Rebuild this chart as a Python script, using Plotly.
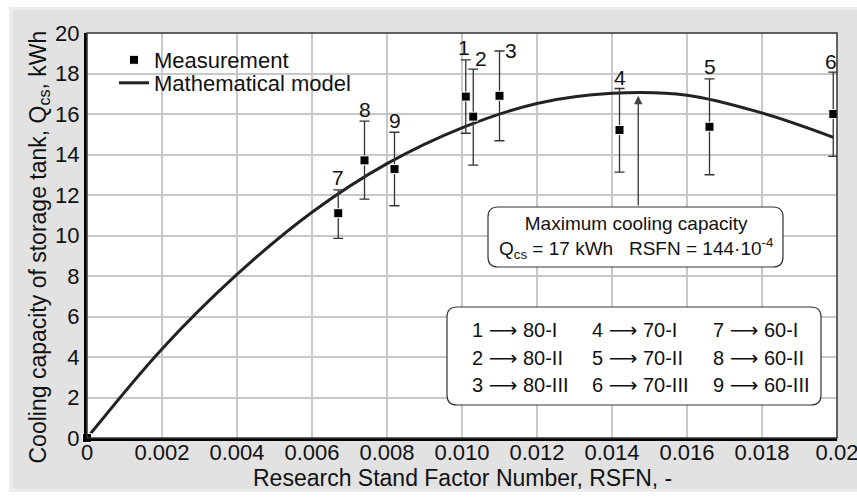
import plotly.graph_objects as go

# ---------------- data ----------------
point_labels = ["1", "2", "3", "4", "5", "6", "7", "8", "9"]
rsfn = [0.0101, 0.0103, 0.0110, 0.0142, 0.0166, 0.0199, 0.0067, 0.0074, 0.0082]
q_meas = [16.86, 15.87, 16.90, 15.21, 15.37, 16.00, 11.10, 13.71, 13.28]
err_plus = [1.81, 2.35, 2.21, 2.05, 2.36, 2.07, 1.15, 1.94, 1.82]
err_minus = [1.81, 2.39, 2.22, 2.08, 2.37, 2.09, 1.24, 1.91, 1.81]

origin_x = [0.0]
origin_y = [0.0]

model_x = [0.0, 0.002, 0.004, 0.006, 0.008, 0.010, 0.012, 0.014, 0.016, 0.018, 0.0199]
model_y = [0.0, 4.40, 8.08, 11.15, 13.55, 15.32, 16.52, 17.02, 16.93, 16.05, 14.85]

configs = ["80-I", "80-II", "80-III", "70-I", "70-II", "70-III", "60-I", "60-II", "60-III"]

x_tickvals = [0, 0.002, 0.004, 0.006, 0.008, 0.010, 0.012, 0.014, 0.016, 0.018, 0.02]
x_ticktext = ["0", "0.002", "0.004", "0.006", "0.008", "0.010", "0.012", "0.014", "0.016", "0.018", "0.02"]
y_tickvals = [0, 2, 4, 6, 8, 10, 12, 14, 16, 18, 20]

max_q = 17
max_rsfn_text = "144"
arrow_tip = (0.0147, 16.9)

# ---------------- styling / layout helpers ----------------
FONT = "Liberation Sans, Arial, sans-serif"
W, H = 857, 497
ML, MR, MT, MB = 87, 20, 33, 59
PW, PH = W - ML - MR, H - MT - MB


def px2paper(px, py):
    return (px - ML) / PW, (H - MB - py) / PH


def rounded_rect(x0px, y0px, x1px, y1px, r):
    xa, yb = px2paper(x0px, y1px)
    xb, yt = px2paper(x1px, y0px)
    rx, ry = r / PW, r / PH
    return (f"M {xa+rx},{yb} L {xb-rx},{yb} Q {xb},{yb} {xb},{yb+ry} "
            f"L {xb},{yt-ry} Q {xb},{yt} {xb-rx},{yt} "
            f"L {xa+rx},{yt} Q {xa},{yt} {xa},{yt-ry} "
            f"L {xa},{yb+ry} Q {xa},{yb} {xa+rx},{yb} Z")


LABEL_OFFSETS = {"2": (8, 11), "3": (11, 1), "1": (-2, 12), "6": (-2, 11), "4": (0, 11)}
ARROW = "<span style=\"font-family:DejaVu Sans\">\u27f6</span>"

fig = go.Figure()

fig.add_trace(go.Scatter(
    x=model_x, y=model_y, mode="lines", name="Mathematical model",
    line=dict(color="#222222", width=3, shape="spline", smoothing=1.0),
    legend="legend2",
))

fig.add_trace(go.Scatter(
    x=rsfn, y=q_meas, mode="markers", name="Measurement",
    marker=dict(symbol="square", size=9, color="black", line=dict(color="white", width=1)),
    error_y=dict(type="data", symmetric=False, array=err_plus, arrayminus=err_minus,
                 color="#333333", thickness=1.3, width=5),
    cliponaxis=False, legend="legend",
))

fig.add_trace(go.Scatter(
    x=origin_x, y=origin_y, mode="markers", showlegend=False,
    marker=dict(symbol="square", size=9, color="black", line=dict(color="white", width=1)),
    cliponaxis=False,
))

annotations = []
for lab, x, y, ep in zip(point_labels, rsfn, q_meas, err_plus):
    dx, dy = LABEL_OFFSETS.get(lab, (0, 12))
    annotations.append(dict(x=x, y=y + ep, text=lab, showarrow=False, xanchor="center",
                            yanchor="middle", xshift=dx, yshift=dy,
                            font=dict(family=FONT, size=21, color="#111")))

bx0, by0, bx1, by1 = 488, 207, 783, 267
box_top = px2paper(0, by0)[1] * 20
annotations.append(dict(x=arrow_tip[0], y=arrow_tip[1], ax=arrow_tip[0], ay=box_top,
                        axref="x", ayref="y", xref="x", yref="y", showarrow=True,
                        arrowhead=2, arrowsize=1.2, arrowwidth=1.4, arrowcolor="#444",
                        standoff=0, text=""))

cx, cy = px2paper((bx0 + bx1) / 2, (by0 + by1) / 2)
annotations.append(dict(x=cx, y=cy, xref="paper", yref="paper", showarrow=False,
                        text=("Maximum cooling capacity<br>"
                              f"Q<sub>cs</sub> = {max_q} kWh\u00a0\u00a0\u00a0RSFN = {max_rsfn_text}\u00b710<sup>-4</sup>"),
                        align="center", xanchor="center", yanchor="middle",
                        font=dict(family=FONT, size=19, color="#111")))

tx0, ty0, tx1, ty1 = 447, 307, 821, 405
col_px = [470, 590, 711]
row_px = [330, 357.5, 385]
for i, (lab, cfg) in enumerate(zip(point_labels, configs)):
    c, r = i // 3, i % 3
    xp, yp = px2paper(col_px[c], row_px[r])
    annotations.append(dict(x=xp, y=yp, xref="paper", yref="paper", showarrow=False,
                            text=f"{lab} {ARROW} {cfg}", xanchor="left", yanchor="middle",
                            font=dict(family=FONT, size=20, color="#111")))

xt = px2paper(462, 478)
annotations.append(dict(x=xt[0], y=xt[1], xref="paper", yref="paper", showarrow=False,
                        text="Research Stand Factor Number, RSFN, -", xanchor="center",
                        yanchor="middle", font=dict(family=FONT, size=23, color="#111")))
yt = px2paper(39, 247.5)
annotations.append(dict(x=yt[0], y=yt[1], xref="paper", yref="paper", showarrow=False,
                        text="Cooling capacity of storage tank, Q<sub>cs</sub>, kWh",
                        textangle=-90, xanchor="center", yanchor="middle",
                        font=dict(family=FONT, size=23, color="#111")))

shapes = []
p0 = px2paper(9, 492)
p1 = px2paper(857, 7)
shapes.append(dict(type="rect", xref="paper", yref="paper", x0=p0[0], y0=p0[1], x1=p1[0], y1=p1[1],
                   fillcolor="#ececec", line=dict(width=0), layer="below"))
p0 = px2paper(13, 489)
p1 = px2paper(857, 10)
shapes.append(dict(type="rect", xref="paper", yref="paper", x0=p0[0], y0=p0[1], x1=p1[0], y1=p1[1],
                   fillcolor="#e2e2e2", line=dict(width=0), layer="below"))
shapes.append(dict(type="rect", xref="paper", yref="paper", x0=0, y0=0, x1=1, y1=1,
                   fillcolor="white", line=dict(width=0), layer="below"))
shapes.append(dict(type="rect", xref="paper", yref="paper", x0=0, y0=0, x1=1, y1=1,
                   fillcolor="rgba(0,0,0,0)", line=dict(color="#333", width=1.5), layer="above"))
shapes.append(dict(type="path", xref="paper", yref="paper", path=rounded_rect(bx0, by0, bx1, by1, 10),
                   fillcolor="white", line=dict(color="#333", width=1.2), layer="above"))
shapes.append(dict(type="path", xref="paper", yref="paper", path=rounded_rect(tx0, ty0, tx1, ty1, 10),
                   fillcolor="white", line=dict(color="#333", width=1.2), layer="above"))

lx = px2paper(114, 0)[0]
fig.update_layout(
    width=W, height=H,
    margin=dict(l=ML, r=MR, t=MT, b=MB, autoexpand=False),
    paper_bgcolor="white", plot_bgcolor="white",
    font=dict(family=FONT, size=22, color="#111"),
    showlegend=True,
    legend=dict(x=lx, y=px2paper(0, 60)[1], xanchor="left", yanchor="middle",
                bgcolor="rgba(0,0,0,0)", font=dict(family=FONT, size=22, color="#111"),
                itemwidth=30),
    legend2=dict(x=lx, y=px2paper(0, 83)[1], xanchor="left", yanchor="middle",
                 bgcolor="rgba(0,0,0,0)", font=dict(family=FONT, size=22, color="#111"),
                 itemwidth=30),
    annotations=annotations,
    shapes=shapes,
)
fig.update_xaxes(range=[0, 0.02], tickvals=x_tickvals, ticktext=x_ticktext,
                 showgrid=True, gridcolor="#c8c8c8", gridwidth=1.5, zeroline=False,
                 showline=True, linecolor="black", linewidth=3, ticks="",
                 ticklabelstandoff=-7, ticklabeloverflow="allow", automargin=False,
                 tickfont=dict(family=FONT, size=22, color="#111"))
fig.update_yaxes(range=[0, 20], tickvals=y_tickvals, automargin=False,
                 showgrid=True, gridcolor="#c8c8c8", gridwidth=1.5, zeroline=False,
                 showline=True, linecolor="black", linewidth=3, ticks="",
                 tickfont=dict(family=FONT, size=22, color="#111"))

fig.write_html("out.html")
